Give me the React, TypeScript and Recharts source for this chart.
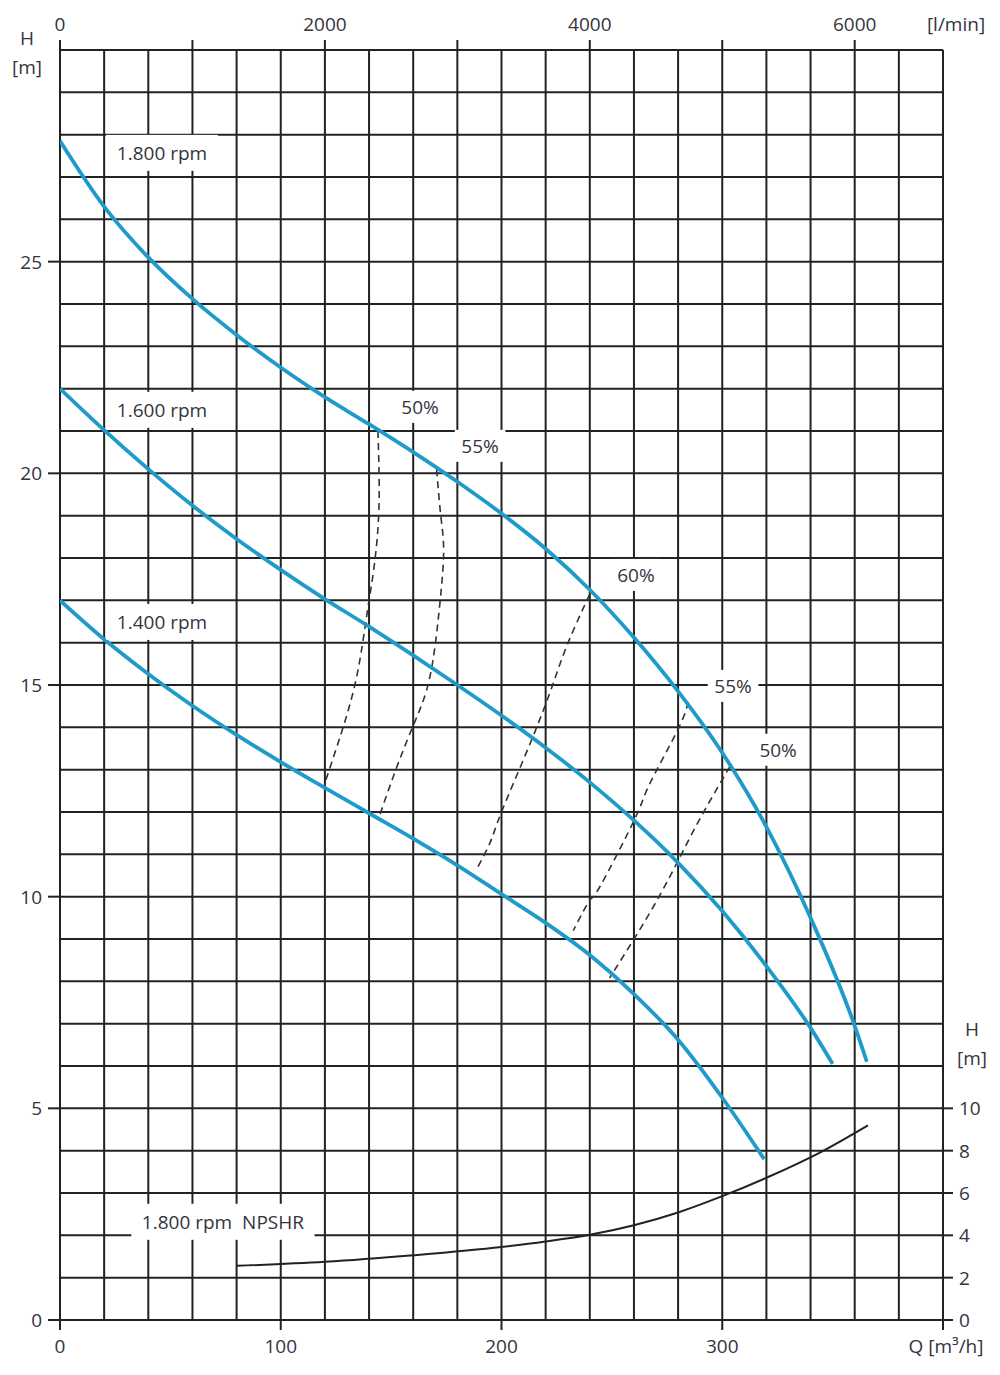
import React from 'react';
import { ComposedChart, Line, XAxis, YAxis, CartesianGrid, ReferenceDot } from 'recharts';

// pump curves, Q in m³/h, H in m
const rpm1800 = [
  { q: 0, h: 27.85 }, { q: 20, h: 26.3 }, { q: 40, h: 25.1 }, { q: 60, h: 24.12 },
  { q: 80, h: 23.27 }, { q: 100, h: 22.5 }, { q: 120, h: 21.8 }, { q: 140, h: 21.16 },
  { q: 160, h: 20.5 }, { q: 180, h: 19.8 }, { q: 200, h: 19.05 }, { q: 220, h: 18.22 },
  { q: 240, h: 17.25 }, { q: 260, h: 16.12 }, { q: 280, h: 14.85 }, { q: 300, h: 13.4 },
  { q: 320, h: 11.65 }, { q: 340, h: 9.5 }, { q: 360, h: 6.95 }, { q: 365.5, h: 6.1 },
];
const rpm1600 = [
  { q: 0, h: 22.0 }, { q: 20, h: 21.02 }, { q: 40, h: 20.1 }, { q: 60, h: 19.24 },
  { q: 80, h: 18.45 }, { q: 100, h: 17.72 }, { q: 120, h: 17.03 }, { q: 140, h: 16.38 },
  { q: 160, h: 15.7 }, { q: 180, h: 15.0 }, { q: 200, h: 14.28 }, { q: 220, h: 13.52 },
  { q: 240, h: 12.7 }, { q: 260, h: 11.8 }, { q: 280, h: 10.8 }, { q: 300, h: 9.66 },
  { q: 320, h: 8.36 }, { q: 340, h: 6.9 }, { q: 350, h: 6.05 },
];
const rpm1400 = [
  { q: 0, h: 17.0 }, { q: 20, h: 16.08 }, { q: 40, h: 15.26 }, { q: 60, h: 14.51 },
  { q: 80, h: 13.82 }, { q: 100, h: 13.18 }, { q: 120, h: 12.57 }, { q: 140, h: 11.97 },
  { q: 160, h: 11.37 }, { q: 180, h: 10.74 }, { q: 200, h: 10.06 }, { q: 220, h: 9.38 },
  { q: 240, h: 8.62 }, { q: 260, h: 7.7 }, { q: 280, h: 6.62 }, { q: 300, h: 5.25 },
  { q: 319, h: 3.8 },
];

// efficiency lines
const eff50a = [
  { q: 144, h: 21.0 }, { q: 144.5, h: 19.2 }, { q: 142.3, h: 17.8 }, { q: 140, h: 17.0 },
  { q: 137.7, h: 16.2 }, { q: 134, h: 15.1 }, { q: 128, h: 13.96 }, { q: 120.4, h: 12.75 },
];
const eff55a = [
  { q: 170.6, h: 20.1 }, { q: 172.5, h: 19.0 }, { q: 173.8, h: 18.15 }, { q: 172.3, h: 17.04 },
  { q: 170, h: 15.96 }, { q: 166.3, h: 14.92 }, { q: 160, h: 14.04 }, { q: 152.4, h: 13.04 },
  { q: 145, h: 11.95 },
];
const eff60 = [
  { q: 240, h: 17.15 }, { q: 229.4, h: 15.9 }, { q: 221.8, h: 14.8 }, { q: 211.4, h: 13.42 },
  { q: 200, h: 12.0 }, { q: 195, h: 11.3 }, { q: 188.5, h: 10.62 },
];
const eff55b = [
  { q: 284.5, h: 14.6 }, { q: 280, h: 13.96 }, { q: 267, h: 12.65 }, { q: 260.5, h: 11.85 },
  { q: 244.6, h: 10.24 }, { q: 240, h: 9.92 }, { q: 232.5, h: 9.2 },
];
const eff50b = [
  { q: 303.5, h: 13.08 }, { q: 290, h: 11.85 }, { q: 280, h: 10.85 }, { q: 270.5, h: 9.92 },
  { q: 260.5, h: 9.04 }, { q: 249, h: 8.08 },
];

// NPSHR at 1800 rpm, right scale
const npshr = [
  { q: 80, npsh: 2.56 }, { q: 120, npsh: 2.75 }, { q: 160, npsh: 3.06 }, { q: 200, npsh: 3.45 },
  { q: 220, npsh: 3.71 }, { q: 240, npsh: 4.03 }, { q: 260, npsh: 4.48 }, { q: 280, npsh: 5.08 },
  { q: 300, npsh: 5.85 }, { q: 320, npsh: 6.72 }, { q: 344, npsh: 7.9 }, { q: 366, npsh: 9.2 },
];

const notes = [
  { q: 46.2, h: 27.57, text: '1.800 rpm' },
  { q: 46.2, h: 21.5, text: '1.600 rpm' },
  { q: 46.2, h: 16.49, text: '1.400 rpm' },
  { q: 73.8, h: 2.32, text: '1.800 rpm  NPSHR' },
  { q: 163.1, h: 21.57, text: '50%' },
  { q: 190.3, h: 20.65, text: '55%' },
  { q: 260.9, h: 17.6, text: '60%' },
  { q: 304.9, h: 14.98, text: '55%' },
  { q: 325.3, h: 13.47, text: '50%' },
];

const qLabels = [0, 100, 200, 300];
const hLabels = [0, 5, 10, 15, 20, 25];
const npshTicks = [0, 2, 4, 6, 8, 10];
const lminTicks = [0, 1000, 2000, 3000, 4000, 5000, 6000];
const lminLabels = [0, 2000, 4000, 6000];

const Q_MAX = 400;
const H_MAX = 30;
const qGrid = Array.from({ length: Q_MAX / 20 + 1 }, (_, i) => i * 20);
const hGrid = Array.from({ length: H_MAX + 1 }, (_, i) => i);
// top axis runs in m³/h too, ticks placed at the l/min values
const topTicks = [...lminTicks.map((v) => (v * 60) / 1000), Q_MAX];

const BLUE = '#1f9bc9';
const INK = '#222';
const txt = { fontFamily: '"Open Sans", sans-serif', fontSize: 19, fill: '#34343e' };

const BottomTick = ({ x, y, payload }: any) => {
  const v = payload.value;
  if (v === Q_MAX) {
    return (
      <g>
        <line x1={x} y1={y} x2={x} y2={y + 10} stroke={INK} strokeWidth={2} />
        <text x={x + 3} y={y + 33} textAnchor="middle" {...txt}>Q [m³/h]</text>
      </g>
    );
  }
  if (!qLabels.includes(v)) return <g />;
  return (
    <g>
      <line x1={x} y1={y} x2={x} y2={y + 10} stroke={INK} strokeWidth={2} />
      <text x={x} y={y + 33} textAnchor="middle" {...txt}>{v}</text>
    </g>
  );
};

const TopTick = ({ x, y, payload }: any) => {
  const v = payload.value;
  if (v === Q_MAX) {
    return <text x={x + 13} y={y - 19} textAnchor="middle" {...txt}>[l/min]</text>;
  }
  const lmin = Math.round((v * 1000) / 60);
  return (
    <g>
      <line x1={x} y1={y} x2={x} y2={y - 10} stroke={INK} strokeWidth={2} />
      {lminLabels.includes(lmin) && (
        <text x={x} y={y - 19} textAnchor="middle" {...txt}>{lmin}</text>
      )}
    </g>
  );
};

const LeftTick = ({ x, y, payload }: any) => {
  const v = payload.value;
  return (
    <g>
      {hLabels.includes(v) && (
        <>
          <line x1={x - 12} y1={y} x2={x} y2={y} stroke={INK} strokeWidth={2} />
          <text x={x - 18} y={y + 7} textAnchor="end" {...txt}>{v}</text>
        </>
      )}
      {v === H_MAX && (
        <>
          <text x={x - 33} y={y - 5} textAnchor="middle" {...txt}>H</text>
          <text x={x - 33} y={y + 24} textAnchor="middle" {...txt}>[m]</text>
        </>
      )}
    </g>
  );
};

const RightTick = ({ x, y, payload }: any) => {
  const v = payload.value;
  return (
    <g>
      <line x1={x} y1={y} x2={x + 10} y2={y} stroke={INK} strokeWidth={2} />
      <text x={x + 16} y={y + 7} textAnchor="start" {...txt}>{v}</text>
      {v === 10 && (
        <>
          <text x={x + 29} y={y - 72} textAnchor="middle" {...txt}>H</text>
          <text x={x + 29} y={y - 43} textAnchor="middle" {...txt}>[m]</text>
        </>
      )}
    </g>
  );
};

const NoteBox = ({ cx, cy, text }: any) => {
  const w = text.length * 10.2 + 20;
  const hgt = text.includes('%') ? 32 : 36;
  return (
    <g>
      <rect x={cx - w / 2} y={cy - hgt / 2} width={w} height={hgt} fill="#fff" />
      <text x={cx} y={cy + 7} textAnchor="middle" {...txt} style={{ whiteSpace: 'pre' }}>{text}</text>
    </g>
  );
};

const effLines = [eff50a, eff55a, eff60, eff55b, eff50b];
const pumpLines = [rpm1800, rpm1600, rpm1400];

export default function App() {
  return (
    <div style={{ position: 'absolute', left: 0, top: 0, width: 1000, height: 1375, background: '#fff' }}>
      <ComposedChart width={1000} height={1375} margin={{ top: 20, right: 17, bottom: 25, left: 20 }}>
        <XAxis
          xAxisId="q" type="number" dataKey="q" domain={[0, Q_MAX]} ticks={qGrid} interval={0}
          allowDataOverflow axisLine={false} tickLine={false} tickSize={0} tickMargin={0}
          height={30} tick={(p: any) => <BottomTick {...p} />}
        />
        <XAxis
          xAxisId="top" orientation="top" type="number" dataKey="q" domain={[0, Q_MAX]}
          ticks={topTicks} interval={0} allowDataOverflow axisLine={false}
          tickLine={false} tickSize={0} tickMargin={0} height={30} tick={(p: any) => <TopTick {...p} />}
        />
        <YAxis
          yAxisId="h" type="number" domain={[0, H_MAX]} ticks={hGrid} interval={0} allowDataOverflow
          axisLine={false} tickLine={false} tickSize={0} tickMargin={0} width={40}
          tick={(p: any) => <LeftTick {...p} />}
        />
        <YAxis
          yAxisId="npsh" orientation="right" type="number" domain={[0, H_MAX * 2]} ticks={npshTicks}
          interval={0} allowDataOverflow axisLine={false} tickLine={false} tickSize={0} tickMargin={0}
          width={40} tick={(p: any) => <RightTick {...p} />}
        />
        <CartesianGrid xAxisId="q" yAxisId="h" stroke={INK} strokeWidth={2} />

        {/* invisible twin of the 1800 rpm curve so the top (l/min) axis has a series */}
        <Line
          xAxisId="top" yAxisId="h" data={rpm1800} dataKey="h" stroke="none" strokeWidth={0}
          dot={false} activeDot={false} isAnimationActive={false}
        />

        {effLines.map((d, i) => (
          <Line
            key={`eff${i}`} xAxisId="q" yAxisId="h" data={d} dataKey="h" type="natural"
            stroke="#333" strokeWidth={1.6} strokeDasharray="7 5" dot={false}
            isAnimationActive={false}
          />
        ))}
        {pumpLines.map((d, i) => (
          <Line
            key={`rpm${i}`} xAxisId="q" yAxisId="h" data={d} dataKey="h" type="monotone"
            stroke={BLUE} strokeWidth={3.8} dot={false} isAnimationActive={false}
          />
        ))}
        <Line
          xAxisId="q" yAxisId="npsh" data={npshr} dataKey="npsh" type="monotone"
          stroke={INK} strokeWidth={2} dot={false} isAnimationActive={false}
        />

        {notes.map((n, i) => (
          <ReferenceDot
            key={`note${i}`} xAxisId="q" yAxisId="h" x={n.q} y={n.h} r={0} ifOverflow="visible"
            shape={(p: any) => <NoteBox cx={p.cx} cy={p.cy} text={n.text} />}
          />
        ))}
      </ComposedChart>
    </div>
  );
}
